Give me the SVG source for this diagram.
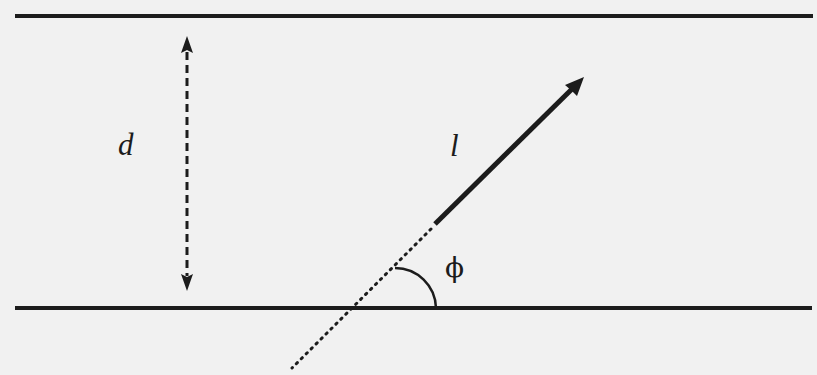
<svg xmlns="http://www.w3.org/2000/svg" width="817" height="375" viewBox="0 0 817 375">
<style>
.plate{stroke:#1c1c1c;stroke-width:4;fill:none}
.lbl{font-family:"Liberation Serif","DejaVu Serif",serif;font-style:italic;font-size:31px;fill:#1c1c1c}
.sym{font-family:"DejaVu Serif","Liberation Serif",serif;font-size:28px;fill:#1c1c1c}
</style>
<defs>
<marker id="ah" viewBox="0 0 10 10" refX="9" refY="5" markerWidth="5" markerHeight="5" orient="auto-start-reverse" markerUnits="strokeWidth">
<path d="M0,0 L10,5 L0,10 L2,5 z" fill="#1c1c1c"/>
</marker>
</defs>
<rect width="817" height="375" fill="#f1f1f1"/>
<g id="plate-top"><line class="plate" x1="15" y1="16" x2="813" y2="16"/></g>
<g id="plate-bottom"><line class="plate" x1="15" y1="308" x2="812" y2="308"/></g>
<g id="label-d"><text class="lbl" x="118" y="155">d</text></g>
<g id="label-l"><text class="lbl" x="450" y="156">l</text></g>
<g id="label-phi"><text class="sym" x="445" y="277">ϕ</text></g>
<g id="connectors">
<line x1="187" y1="52" x2="187" y2="276" stroke="#1c1c1c" stroke-width="3" stroke-dasharray="8,5"/>
<path d="M187,36 L193,53 L187,50 L181,53 z" fill="#1c1c1c"/>
<path d="M187,291 L193,274 L187,277 L181,274 z" fill="#1c1c1c"/>
<line x1="435" y1="224" x2="573" y2="88" stroke="#1c1c1c" stroke-width="5"/>
<path d="M584,77 L577,96 L572,91 L565,85 z" fill="#1c1c1c"/>
<line x1="431" y1="229" x2="292" y2="368" stroke="#1c1c1c" stroke-width="3" stroke-dasharray="1.5,5.5" stroke-linecap="round"/>
<path d="M395,268 A41,41 0 0 1 436,308" fill="none" stroke="#1c1c1c" stroke-width="2.5"/>
</g>
</svg>
